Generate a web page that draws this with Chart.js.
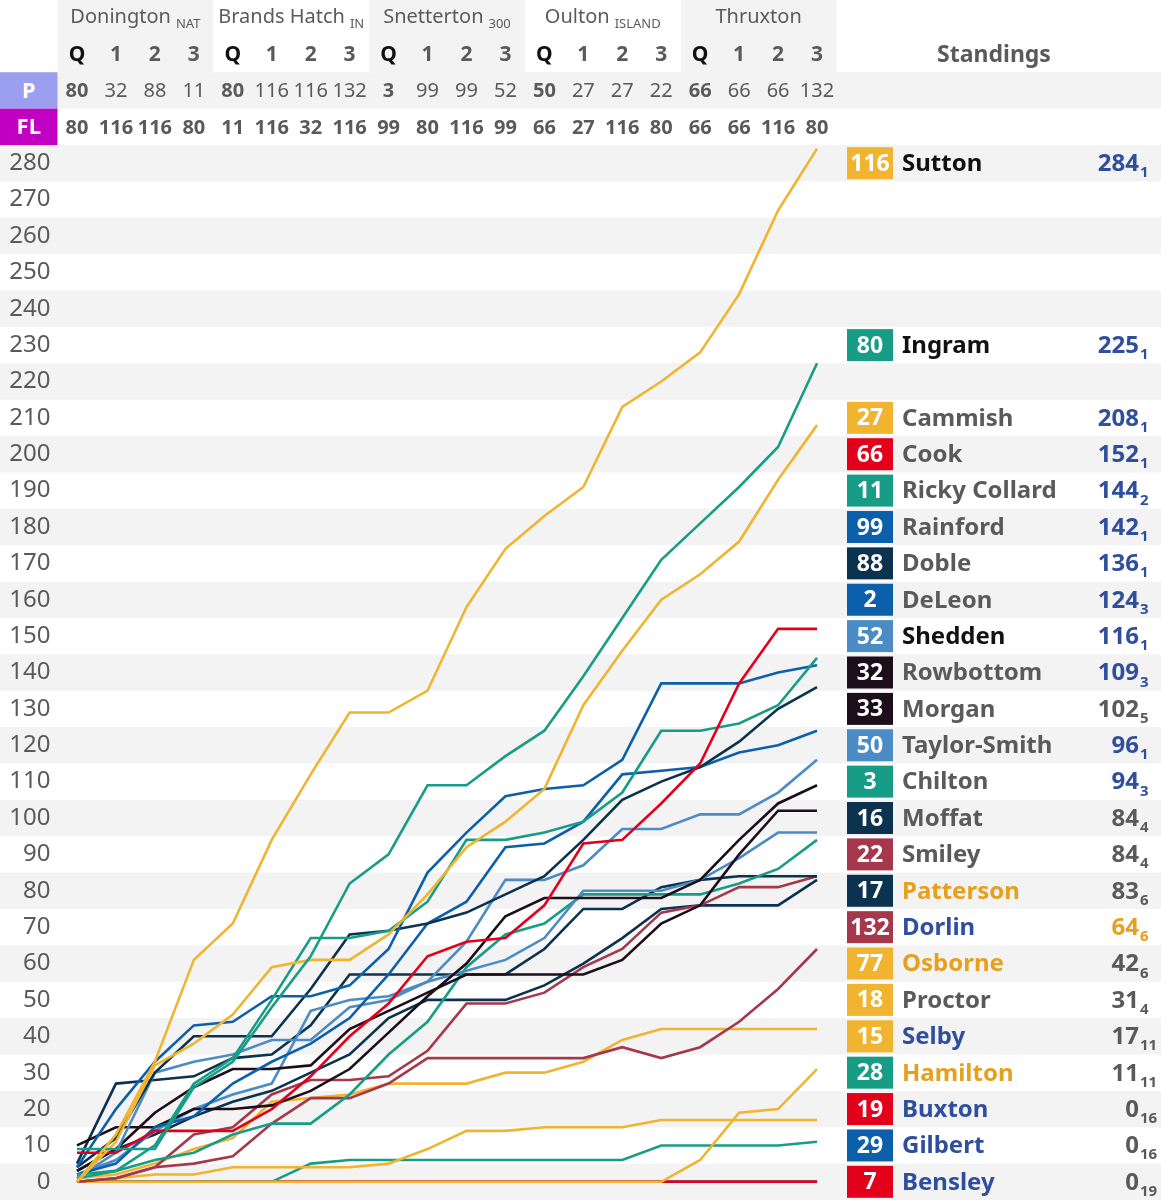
<!DOCTYPE html>
<html>
<head>
<meta charset="utf-8">
<script src="https://cdn.jsdelivr.net/npm/chart.js@4.4.1/dist/chart.umd.min.js"></script>
<style>
  html, body { margin: 0; padding: 0; background: #fff; }
  #wrap { width: 1161px; height: 1200px; position: relative; }
</style>
</head>
<body>
<div id="wrap"><canvas id="chart"></canvas></div>
<script>
// sessions: qualifying + 3 races at each venue
const sessions = ['Q', '1', '2', '3', 'Q', '1', '2', '3', 'Q', '1', '2', '3', 'Q', '1', '2', '3', 'Q', '1', '2', '3'];
const venues = ['Donington', 'Brands Hatch', 'Snetterton', 'Oulton', 'Thruxton'];
const venueTags = ['NAT', 'IN', '300', 'ISLAND', ''];
const poleRow = ['80', '32', '88', '11', '80', '116', '116', '132', '3', '99', '99', '52', '50', '27', '27', '22', '66', '66', '66', '132'];
const fastestLapRow = ['80', '116', '116', '80', '11', '116', '32', '116', '99', '80', '116', '99', '66', '27', '116', '80', '66', '66', '116', '80'];

// standings
const drivers = ['Sutton', 'Ingram', 'Cammish', 'Cook', 'Ricky Collard', 'Rainford', 'Doble', 'DeLeon', 'Shedden', 'Rowbottom', 'Morgan', 'Taylor-Smith', 'Chilton', 'Moffat', 'Smiley', 'Patterson', 'Dorlin', 'Osborne', 'Proctor', 'Selby', 'Hamilton', 'Buxton', 'Gilbert', 'Bensley'];
const carNumbers = ['116', '80', '27', '66', '11', '99', '88', '2', '52', '32', '33', '50', '3', '16', '22', '17', '132', '77', '18', '15', '28', '19', '29', '7'];
const totals = [284, 225, 208, 152, 144, 142, 136, 124, 116, 109, 102, 96, 94, 84, 84, 83, 64, 42, 31, 17, 11, 0, 0, 0];
const bestFinish = [1, 1, 1, 1, 2, 1, 1, 3, 1, 3, 5, 1, 3, 4, 4, 6, 6, 6, 4, 11, 11, 16, 16, 19];
const teams = ['gold', 'teal', 'gold', 'red', 'teal', 'blue', 'navy', 'blue', 'sky', 'black', 'black', 'sky', 'teal', 'navy', 'maroon', 'navy', 'maroon', 'gold', 'gold', 'gold', 'teal', 'red', 'blue', 'red'];
const nameTone = ['dark', 'dark', 'grey', 'grey', 'grey', 'grey', 'grey', 'grey', 'dark', 'grey', 'grey', 'grey', 'grey', 'grey', 'grey', 'amber', 'navy', 'amber', 'grey', 'navy', 'amber', 'navy', 'navy', 'navy'];
const pointsTone = ['navy', 'navy', 'navy', 'navy', 'navy', 'navy', 'navy', 'navy', 'navy', 'navy', 'grey', 'navy', 'navy', 'grey', 'grey', 'grey', 'amber', 'grey', 'grey', 'grey', 'grey', 'grey', 'grey', 'grey'];

// cumulative points after each session
const sutton      = [0, 13, 33, 61, 71, 94, 112, 129, 129, 135, 158, 174, 183, 191, 213, 220, 228, 244, 267, 284];
const ingram      = [9, 9, 9, 26, 33, 48, 62, 82, 90, 109, 109, 117, 124, 139, 155, 171, 181, 191, 202, 225];
const cammish     = [0, 11, 32, 38, 46, 59, 61, 61, 68, 79, 92, 99, 108, 131, 146, 160, 167, 176, 193, 208];
const cook        = [8, 8, 14, 14, 14, 20, 29, 40, 49, 62, 66, 67, 76, 93, 94, 104, 115, 137, 152, 152];
const collard     = [2, 3, 10, 27, 34, 50, 67, 67, 69, 77, 94, 94, 96, 99, 107, 124, 124, 126, 131, 144];
const rainford    = [4, 20, 33, 43, 44, 51, 51, 54, 64, 85, 96, 106, 108, 109, 116, 137, 137, 137, 140, 142];
const doble       = [4, 12, 30, 40, 40, 40, 53, 68, 69, 71, 74, 79, 84, 94, 105, 110, 114, 121, 130, 136];
const deleon      = [2, 5, 15, 18, 27, 33, 38, 45, 57, 71, 77, 92, 93, 99, 112, 113, 114, 118, 120, 124];
const shedden     = [1, 8, 30, 33, 35, 39, 39, 48, 50, 55, 66, 83, 83, 87, 97, 97, 101, 101, 107, 116];
const rowbottom   = [10, 15, 15, 20, 20, 21, 25, 31, 41, 51, 60, 73, 78, 78, 78, 78, 83, 94, 104, 109];
const morgan      = [3, 9, 19, 26, 31, 31, 32, 42, 47, 52, 57, 57, 57, 57, 61, 71, 76, 90, 102, 102];
const taylorSmith = [2, 6, 14, 20, 24, 27, 47, 50, 51, 55, 58, 61, 67, 80, 80, 80, 83, 89, 96, 96];
const chilton     = [1, 3, 6, 8, 13, 16, 16, 24, 35, 44, 59, 68, 71, 79, 79, 79, 79, 82, 86, 94];
const moffat      = [5, 27, 28, 29, 34, 35, 43, 57, 57, 57, 57, 57, 64, 75, 75, 81, 83, 84, 84, 84];
const smiley      = [0, 1, 4, 13, 15, 24, 28, 28, 29, 36, 49, 49, 52, 59, 64, 74, 76, 81, 81, 84];
const patterson   = [3, 9, 13, 18, 22, 25, 30, 35, 45, 50, 50, 50, 54, 60, 67, 75, 76, 76, 76, 83];
const dorlin      = [0, 1, 4, 5, 7, 16, 23, 23, 27, 34, 34, 34, 34, 34, 37, 34, 37, 44, 53, 64];
const osborne     = [1, 2, 5, 9, 12, 22, 23, 24, 27, 27, 27, 30, 30, 33, 39, 42, 42, 42, 42, 42];
const proctor     = [0, 0, 0, 0, 0, 0, 0, 0, 0, 0, 0, 0, 0, 0, 0, 0, 6, 19, 20, 31];
const selby       = [0, 1, 2, 2, 4, 4, 4, 4, 5, 9, 14, 14, 15, 15, 15, 17, 17, 17, 17, 17];
const hamilton    = [0, 0, 0, 0, 0, 0, 5, 6, 6, 6, 6, 6, 6, 6, 6, 10, 10, 10, 10, 11];
const buxton      = [0, 0, 0, 0, 0, 0, 0, 0, 0, 0, 0, 0, 0, 0, 0, 0, 0, 0, 0, 0];
const gilbert     = [0, 0, 0, 0, 0, 0, 0, 0, 0, 0, 0, 0, 0, 0, 0, 0, 0, 0, 0, 0];
const bensley     = [0, 0, 0, 0, 0, 0, 0, 0, 0, 0, 0, 0, 0, 0, 0, 0, 0, 0, 0, 0];

const series = [sutton, ingram, cammish, cook, collard, rainford, doble, deleon, shedden, rowbottom, morgan, taylorSmith, chilton, moffat, smiley, patterson, dorlin, osborne, proctor, selby, hamilton, buxton, gilbert, bensley];

const teamColours = {
  gold: '#f0b431', teal: '#179d86', red: '#e3001b', blue: '#0c5fab',
  navy: '#0b3350', sky: '#4b8cc6', black: '#1d0e1c', maroon: '#a6384b'
};
const toneColours = { dark: '#111111', grey: '#5a5a5a', amber: '#e6a01e', navy: '#2f4f9e' };
const stripe = '#f3f3f3';
const font = '"Noto Sans", "Open Sans", sans-serif';

// standings rows stack upward from the bottom, each at its rounded total if there is room
const rowValues = [];
{
  let prev = -10;
  for (let i = drivers.length - 1; i >= 0; i--) {
    const v = Math.max(Math.round(totals[i] / 10) * 10, prev + 10);
    rowValues[i] = v;
    prev = v;
  }
}

function withSub(ctx, main, sub, x, y, mainFont, subFont, align) {
  ctx.font = mainFont;
  const w1 = ctx.measureText(main).width;
  ctx.font = subFont;
  const w2 = sub ? ctx.measureText(sub).width + 5 : 0;
  const start = align === 'center' ? x - (w1 + w2) / 2 : x;
  ctx.textAlign = 'left';
  ctx.textBaseline = 'middle';
  ctx.font = mainFont;
  ctx.fillText(main, start, y);
  if (sub) {
    ctx.font = subFont;
    ctx.textBaseline = 'alphabetic';
    ctx.fillText(sub, start + w1 + 5, y + 11);
  }
}

const gridPlugin = {
  id: 'grid',
  beforeDraw(chart) {
    const { ctx, width, scales: { x, y } } = chart;
    const step = x.getPixelForValue(1) - x.getPixelForValue(0);
    ctx.save();
    // horizontal bands
    for (let v = 0; v <= 280; v += 20) {
      const top = y.getPixelForValue(v + 5);
      const bottom = y.getPixelForValue(v - 5);
      ctx.fillStyle = stripe;
      ctx.fillRect(0, top, width, bottom - top);
    }
    const rowH = y.getPixelForValue(0) - y.getPixelForValue(10);
    const flTop = y.getPixelForValue(285) - rowH;
    const pTop = flTop - rowH;
    // P row band
    ctx.fillStyle = stripe;
    ctx.fillRect(0, pTop, width, rowH);
    // venue column bands
    for (let g = 0; g < venues.length; g++) {
      if (g % 2 === 0) {
        const left = x.getPixelForValue(g * 4) - step / 2;
        ctx.fillStyle = stripe;
        ctx.fillRect(left, 0, step * 4, pTop);
      }
    }
    // P / FL labels
    ctx.fillStyle = '#9c9ef0';
    ctx.fillRect(0, pTop, x.left, rowH);
    ctx.fillStyle = '#c200c2';
    ctx.fillRect(0, flTop, x.left, rowH);
    ctx.fillStyle = '#fff';
    ctx.font = 'bold 22px ' + font;
    ctx.textAlign = 'center';
    ctx.textBaseline = 'middle';
    ctx.fillText('P', x.left / 2, pTop + rowH / 2 + 1);
    ctx.fillText('FL', x.left / 2, flTop + rowH / 2 + 1);

    // venue names
    ctx.fillStyle = '#5a5a5a';
    for (let g = 0; g < venues.length; g++) {
      const cx = (x.getPixelForValue(g * 4) + x.getPixelForValue(g * 4 + 3)) / 2;
      withSub(ctx, venues[g], venueTags[g], cx, 17, '20px ' + font, '13px ' + font, 'center');
    }
    // session row, P row, FL row
    ctx.textAlign = 'center';
    ctx.textBaseline = 'middle';
    for (let i = 0; i < sessions.length; i++) {
      const px = x.getPixelForValue(i);
      const isQ = sessions[i] === 'Q';
      ctx.font = 'bold 21px ' + font;
      ctx.fillStyle = isQ ? '#111' : '#5a5a5a';
      ctx.fillText(sessions[i], px, 55);
      ctx.fillStyle = '#5a5a5a';
      ctx.font = (isQ ? 'bold ' : '') + '20px ' + font;
      ctx.fillText(poleRow[i], px, pTop + rowH / 2 + 1);
      ctx.font = 'bold 20px ' + font;
      ctx.fillText(fastestLapRow[i], px, flTop + rowH / 2 + 1);
    }
    ctx.font = 'bold 23px ' + font;
    ctx.fillStyle = '#5a5a5a';
    ctx.fillText('Standings', 994, 55);
    ctx.restore();
  },
  afterDraw(chart) {
    const { ctx, scales: { y } } = chart;
    ctx.save();
    for (let k = 0; k < drivers.length; k++) {
      const yc = y.getPixelForValue(rowValues[k]);
      ctx.fillStyle = teamColours[teams[k]];
      ctx.fillRect(847, yc - 16, 46, 32);
      ctx.fillStyle = '#fff';
      ctx.font = 'bold 23px ' + font;
      ctx.textAlign = 'center';
      ctx.textBaseline = 'middle';
      ctx.fillText(carNumbers[k], 870, yc + 1);
      ctx.fillStyle = toneColours[nameTone[k]];
      ctx.font = 'bold 24px ' + font;
      ctx.textAlign = 'left';
      ctx.fillText(drivers[k], 902, yc + 1);
      ctx.fillStyle = toneColours[pointsTone[k]];
      ctx.textAlign = 'right';
      ctx.fillText(String(totals[k]), 1139, yc + 1);
      ctx.font = 'bold 15px ' + font;
      ctx.textAlign = 'left';
      ctx.textBaseline = 'alphabetic';
      ctx.fillText(String(bestFinish[k]), 1140, yc + 14);
    }
    ctx.restore();
  }
};

const datasets = series.map((values, k) => ({
  label: drivers[k],
  data: values,
  borderColor: teamColours[teams[k]],
  backgroundColor: teamColours[teams[k]],
  borderWidth: 2.6,
  pointRadius: 0,
  pointHoverRadius: 0,
  tension: 0,
  fill: false,
}));

new Chart(document.getElementById('chart'), {
  type: 'line',
  data: { labels: sessions.map((s, i) => i), datasets },
  plugins: [gridPlugin],
  options: {
    responsive: true,
    maintainAspectRatio: false,
    animation: false,
    events: [],
    layout: { padding: { left: 0, right: 324.5, top: 145, bottom: 0 } },
    plugins: { legend: { display: false }, tooltip: { enabled: false } },
    scales: {
      x: {
        type: 'category',
        offset: true,
        display: false,
      },
      y: {
        min: -5,
        max: 285,
        grid: { display: false, drawTicks: false },
        border: { display: false },
        afterFit(scale) {
          scale.width = 57.5;
          scale.paddingTop = 0;
          scale.paddingBottom = 0;
        },
        afterBuildTicks(scale) {
          const t = [];
          for (let v = 0; v <= 280; v += 10) t.push({ value: v });
          scale.ticks = t;
        },
        ticks: {
          padding: 7,
          color: '#5a5a5a',
          font: { family: font, size: 24 },
        },
      },
    },
  },
});
</script>
</body>
</html>
